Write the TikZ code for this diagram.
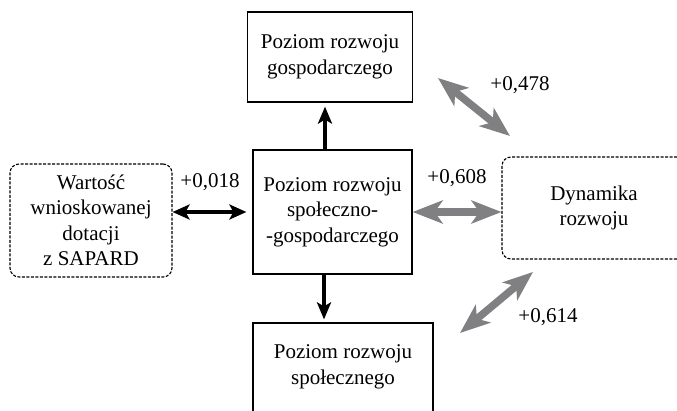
\documentclass[tikz,border=0pt]{standalone}
\usepackage{fontspec}
\newfontfamily\timesfont{Liberation Serif}
\setmainfont{Liberation Serif}
\usetikzlibrary{arrows.meta}
\begin{document}
\begin{tikzpicture}[x=1pt,y=-1pt,
  every node/.style={font=\timesfont\fontsize{21}{25.5}\selectfont, align=center},
  solidbox/.style={draw=black, line width=1.2pt, inner sep=0pt},
  dashbox/.style={draw=black, line width=1.1pt, dash pattern=on 3pt off 1.5pt, rounded corners=9pt, inner sep=0pt},
  blkarrow/.style={line width=4.5pt, black, {Stealth[length=17pt,width=15pt,inset=4pt]}-{Stealth[length=17pt,width=15pt,inset=4pt]}},
  blkone/.style={line width=4.5pt, black, -{Stealth[length=17pt,width=14pt,inset=4pt]}},
  grayarrow/.style={line width=7.5pt, draw={rgb,255:red,128;green,128;blue,130}, {Stealth[length=30pt,width=23pt,inset=8pt]}-{Stealth[length=30pt,width=23pt,inset=8pt]}},
  lbl/.style={inner sep=0pt}
]
\useasboundingbox (0,0) rectangle (677,411);
\clip (0,0) rectangle (677,411);

% boxes
\node[solidbox, minimum width=165pt, minimum height=90pt] (top) at (330,57) {Poziom rozwoju\\gospodarczego};
\node[solidbox, minimum width=159pt, minimum height=124pt] (center) at (332.5,212) {Poziom rozwoju\\społeczno-\\-gospodarczego};
\node[solidbox, minimum width=180pt, minimum height=114pt] (bottom) at (343,380) {};
\node (bottomtext) at (343,367) {Poziom rozwoju\\społecznego};
\node[dashbox, minimum width=162pt, minimum height=113pt] (left) at (91,220.5) {Wartość\\wnioskowanej\\dotacji\\z SAPARD};
\node[dashbox, minimum width=184pt, minimum height=102pt] (right) at (594,208) {Dynamika\\rozwoju};

% arrows
\draw[blkarrow, shorten >=6pt] (left.east |- center.west) -- (center.west);
\draw[grayarrow] (center.east) -- (right.west |- center.east);
\draw[blkone, shorten >=4pt] (center.north -| 325,0) -- (top.south -| 325,0);
\draw[blkone, shorten >=3pt] (center.south -| 324,0) -- (bottom.north -| 324,0);

\coordinate (a1) at (438,78);
\coordinate (a2) at (510,136);
\coordinate (b1) at (533,272);
\coordinate (b2) at (460,333);
\draw[grayarrow] (a1) -- (a2);
\draw[grayarrow] (b1) -- (b2);

% labels
\node[lbl] (l018) at (210,182) {+0,018};
\node[lbl] (l608) at (457,178) {+0,608};
\node[lbl] (l478) at (520,85) {+0,478};
\node[lbl] (l614) at (548,317) {+0,614};
\end{tikzpicture}
\end{document}
